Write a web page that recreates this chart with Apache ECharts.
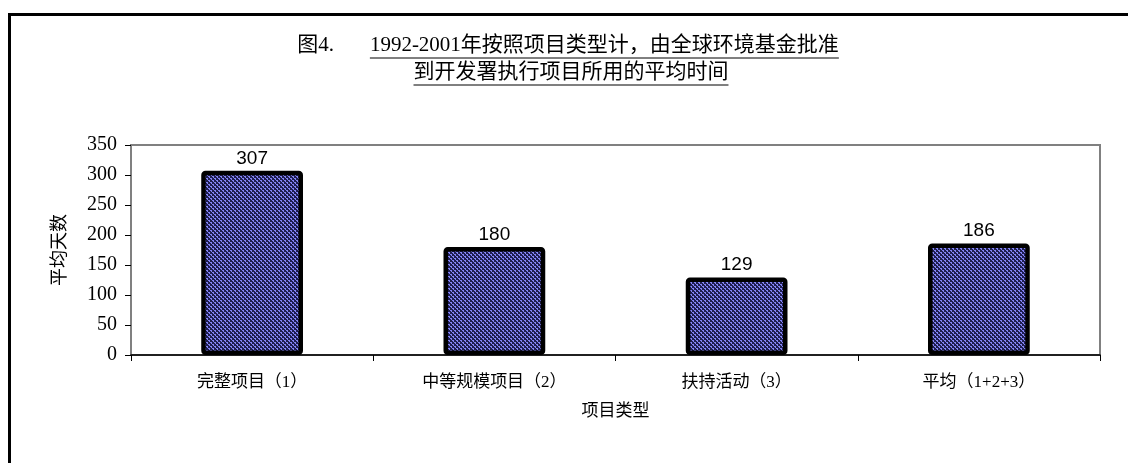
<!DOCTYPE html>
<html>
<head>
<meta charset="utf-8">
<script src="https://cdn.jsdelivr.net/npm/echarts@6/dist/echarts.min.js"></script>
<style>
html,body{margin:0;padding:0;background:#fff;}
#chart{width:1128px;height:463px;}
</style>
</head>
<body>
<div id="chart"></div>
<script>
var categories = ['完整项目（1）', '中等规模项目（2）', '扶持活动（3）', '平均（1+2+3）'];
var values = [307, 180, 129, 186];
var yTicks = [0, 50, 100, 150, 200, 250, 300, 350];
var titlePrefix = '图4.';
var titleLine1 = '1992-2001年按照项目类型计，由全球环境基金批准';
var titleLine2 = '到开发署执行项目所用的平均时间';
var xName = '项目类型';
var yName = '平均天数';

var FONT = "'Liberation Serif','Noto Sans CJK SC',serif";
var TITLE_SIZE = 21;

// bar fill pattern
var pat = document.createElement('canvas');
pat.width = 4; pat.height = 4;
var pc = pat.getContext('2d');
pc.fillStyle = '#1e1e50'; pc.fillRect(0,0,4,4);
pc.fillStyle = '#8484f4';
pc.fillRect(0,0,2,1); pc.fillRect(1,1,1,1);
pc.fillRect(2,2,2,1); pc.fillRect(3,3,1,1);

function measure(t, size){
  var c = document.createElement('canvas').getContext('2d');
  c.font = size + 'px ' + FONT;
  return c.measureText(t).width;
}
var wp = measure(titlePrefix, TITLE_SIZE);
var w1 = measure(titleLine1, TITLE_SIZE);
var w2 = measure(titleLine2, TITLE_SIZE);
var gap = 36;
var total1 = wp + gap + w1;
var xp = 568 - total1 / 2;
var x1 = xp + wp + gap, y1 = 45;
var cx2 = 571, y2 = 72;

var chart = echarts.init(document.getElementById('chart'), null, {renderer:'canvas'});
chart.setOption({
  animation: false,
  backgroundColor: '#fff',
  grid: {left: 131, top: 145, right: 28, bottom: 108, show: true, borderColor: '#808080', borderWidth: 2, backgroundColor: 'transparent'},
  xAxis: {
    type: 'category',
    data: categories,
    name: xName,
    nameLocation: 'middle',
    nameGap: 48,
    nameTextStyle: {fontFamily: FONT, fontSize: 17, color: '#000'},
    axisLine: {lineStyle: {color: '#000', width: 1.5}},
    axisTick: {show: true, alignWithLabel: false, inside: false, length: 6, lineStyle: {color: '#000'}},
    axisLabel: {fontFamily: FONT, fontSize: 17, color: '#000', margin: 19},
    splitLine: {show: false}
  },
  yAxis: {
    type: 'value',
    min: 0, max: 350, interval: 50,
    name: yName,
    nameLocation: 'middle',
    nameGap: 62,
    nameRotate: 90,
    nameTextStyle: {fontFamily: FONT, fontSize: 18, color: '#000'},
    axisLine: {show: true, lineStyle: {color: '#808080', width: 2}},
    axisTick: {show: true, inside: false, length: 6, lineStyle: {color: '#000'}},
    axisLabel: {fontFamily: FONT, fontSize: 20, color: '#000', margin: 14,
      formatter: function(v){ return yTicks.indexOf(v) >= 0 ? String(v) : ''; }},
    splitLine: {show: false}
  },
  series: [{
    type: 'bar',
    data: values,
    barWidth: '42%',
    itemStyle: {color: {image: pat, repeat: 'repeat'}, borderColor: '#000', borderWidth: 4.5, borderRadius: 2},
    label: {show: true, position: 'top', distance: 3, fontFamily: "'Liberation Sans',Arial,sans-serif", fontSize: 19, color: '#000'}
  }],
  graphic: [
    {type: 'rect', left: 7, top: 12, shape: {x: 0, y: 0, width: 1200, height: 600}, style: {fill: 'none', stroke: '#000', lineWidth: 3}, silent: true},
    {type: 'text', x: xp, y: y1, style: {text: titlePrefix, font: TITLE_SIZE + 'px ' + FONT, fill: '#000', textVerticalAlign: 'middle', textAlign: 'left'}},
    {type: 'text', x: x1, y: y1, style: {text: titleLine1, font: TITLE_SIZE + 'px ' + FONT, fill: '#000', textVerticalAlign: 'middle', textAlign: 'left'}},
    {type: 'line', shape: {x1: x1, y1: y1 + 13, x2: x1 + w1, y2: y1 + 13}, style: {stroke: '#000', lineWidth: 1}},
    {type: 'text', x: cx2, y: y2, style: {text: titleLine2, font: TITLE_SIZE + 'px ' + FONT, fill: '#000', textVerticalAlign: 'middle', textAlign: 'center'}},
    {type: 'line', shape: {x1: cx2 - w2/2, y1: y2 + 13, x2: cx2 + w2/2, y2: y2 + 13}, style: {stroke: '#000', lineWidth: 1}}
  ]
});
</script>
</body>
</html>
